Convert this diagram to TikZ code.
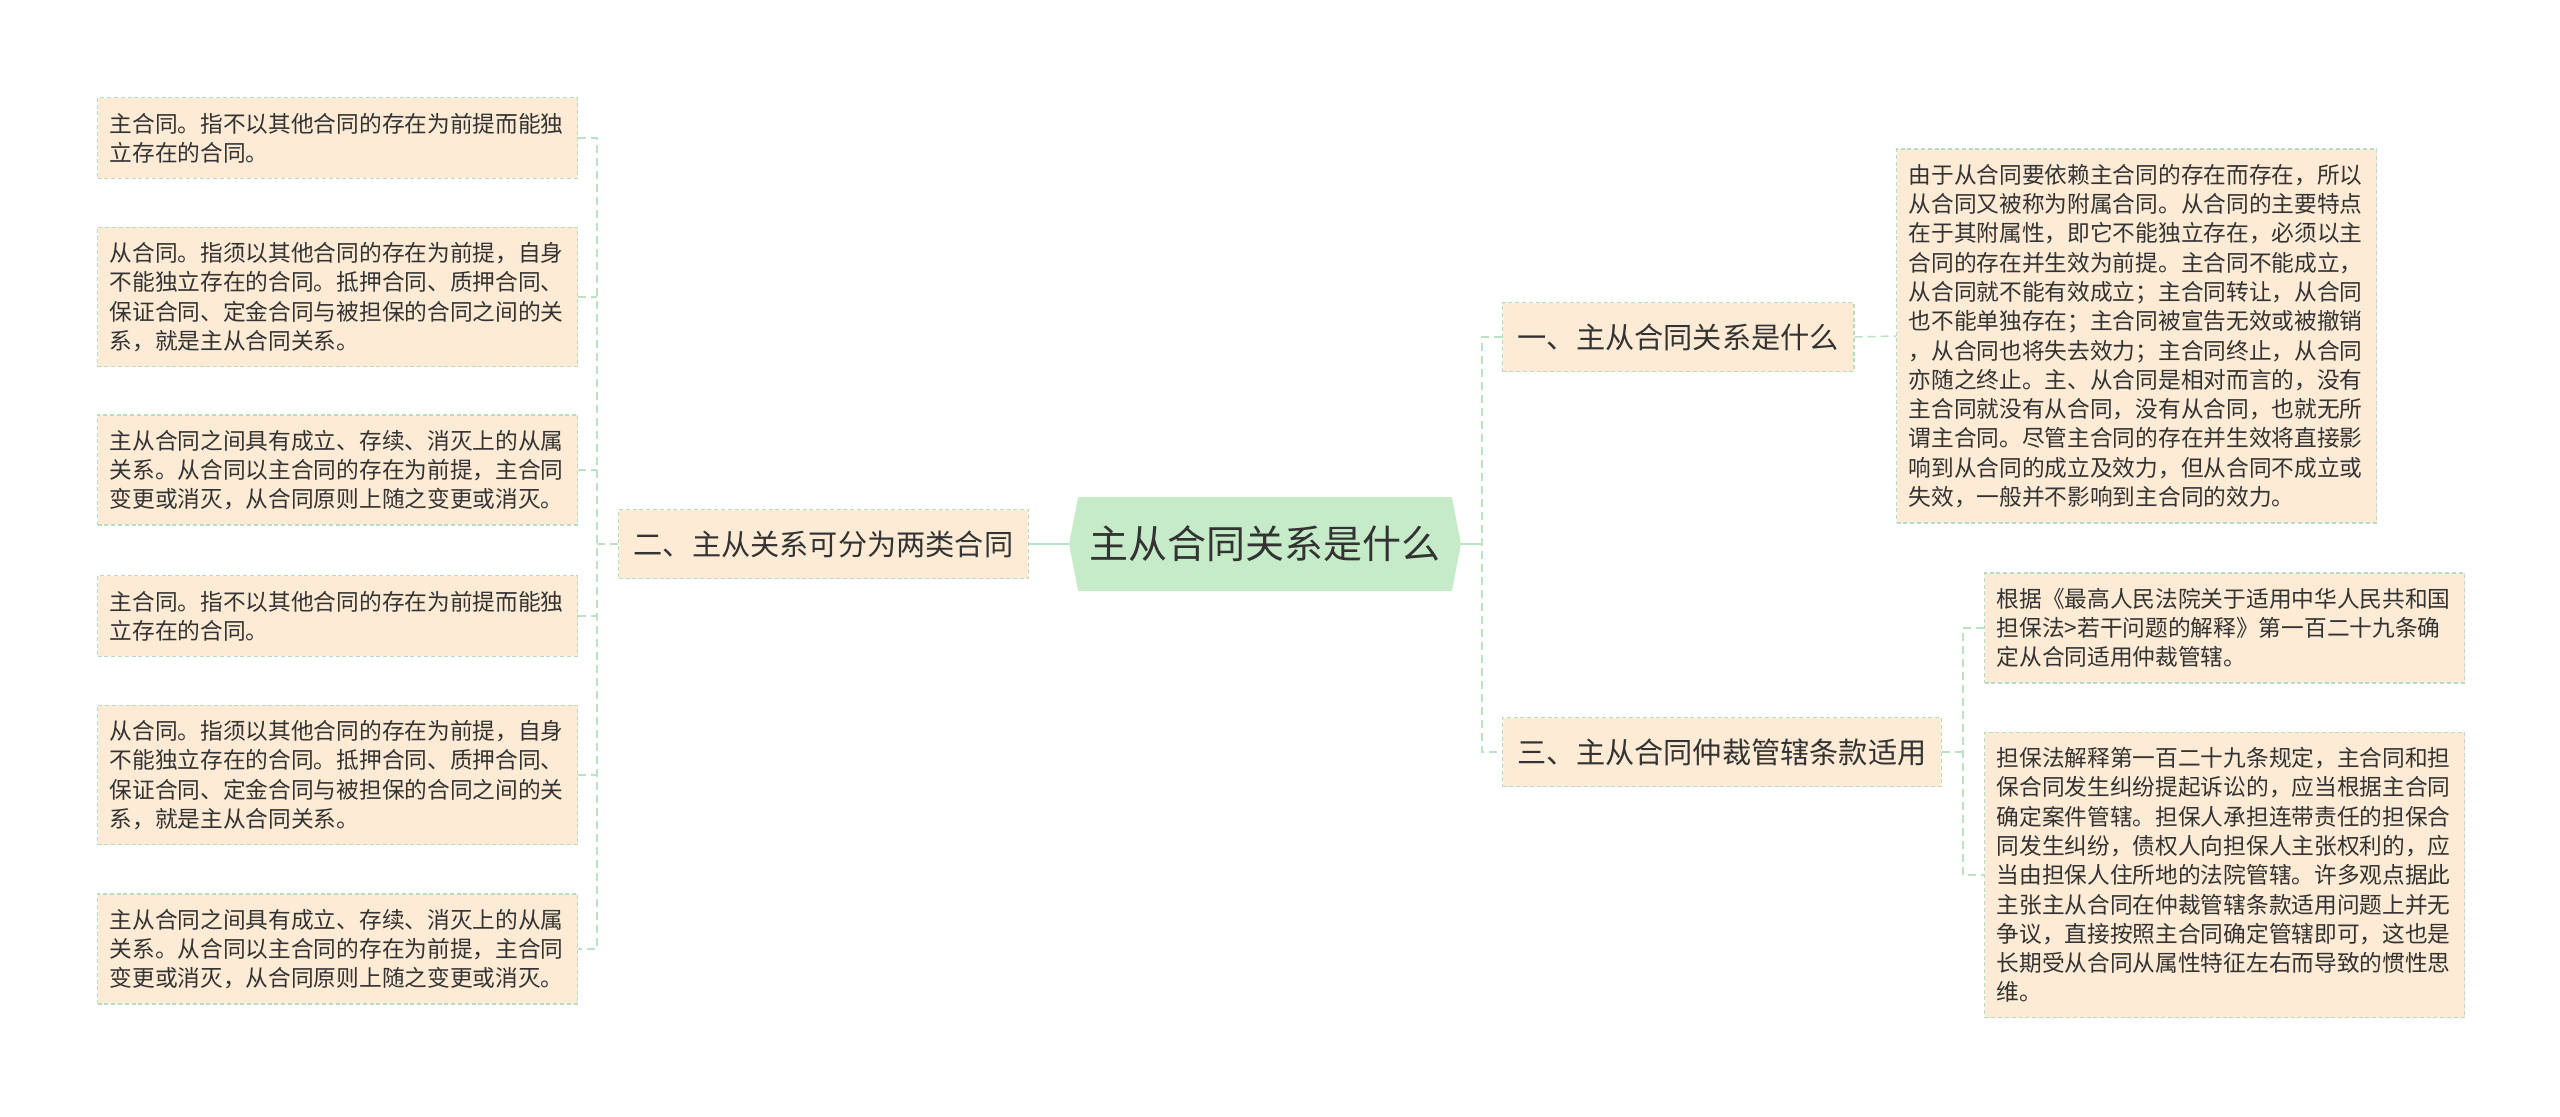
\documentclass[tikz,border=0pt]{standalone}
\usepackage{fontspec}
\setmainfont{Noto Sans CJK SC}
\usetikzlibrary{shapes.symbols}

\definecolor{boxfill}{HTML}{FDEBD5}
\definecolor{boxline}{HTML}{B5DDC0}
\definecolor{rootfill}{HTML}{C6EBC9}
\definecolor{linkclr}{HTML}{BCE2C5}
\definecolor{textclr}{HTML}{333333}

\newcommand{\leaffont}{\fontsize{11.35pt}{14.65pt}\selectfont}
\newcommand{\topicfont}{\fontsize{14.6pt}{17pt}\selectfont}
\newcommand{\rootfont}{\fontsize{19.5pt}{22pt}\selectfont}

\begin{document}
\begin{tikzpicture}[x=0.5pt,y=-0.5pt,
    leaf/.style={draw=boxline, line width=0.65pt, dash pattern=on 2pt off 1.4pt,
        fill=boxfill, text=textclr, font=\leaffont, text width=228pt, align=left,
        inner xsep=6pt, inner ysep=7.5pt, anchor=west},
    topic/.style={draw=boxline, line width=0.65pt, dash pattern=on 2pt off 1.4pt,
        fill=boxfill, text=textclr, font=\topicfont, inner xsep=7.5pt,
        minimum height=34.5pt},
    rootnode/.style={signal, signal to=west and east, signal pointer angle=158,
        fill=rootfill, text=textclr, font=\rootfont, minimum width=196pt,
        minimum height=47pt, inner sep=0pt},
    mainline/.style={draw=linkclr, line width=1.2pt},
    branch/.style={draw=linkclr, line width=0.75pt, dash pattern=on 4pt off 2.5pt}]

    \useasboundingbox[fill=white] (0,0) rectangle (2560,1116);

    % centre
    \node[rootnode] (root) at (1265,544) {主从合同关系是什么};

    % first level
    \node[topic, anchor=west] (t1) at (1502,337) {一、主从合同关系是什么};
    \node[topic, anchor=east] (t2) at (1029,544) {二、主从关系可分为两类合同};
    \node[topic, anchor=west] (t3) at (1502,752) {三、主从合同仲裁管辖条款适用};

    % left leaves
    \node[leaf] (l1) at (97,138) {主合同。指不以其他合同的存在为前提而能独\\立存在的合同。};
    \node[leaf] (l2) at (97,297) {从合同。指须以其他合同的存在为前提，自身\\不能独立存在的合同。抵押合同、质押合同、\\保证合同、定金合同与被担保的合同之间的关\\系，就是主从合同关系。};
    \node[leaf] (l3) at (97,470) {主从合同之间具有成立、存续、消灭上的从属\\关系。从合同以主合同的存在为前提，主合同\\变更或消灭，从合同原则上随之变更或消灭。};
    \node[leaf] (l4) at (97,616) {主合同。指不以其他合同的存在为前提而能独\\立存在的合同。};
    \node[leaf] (l5) at (97,775) {从合同。指须以其他合同的存在为前提，自身\\不能独立存在的合同。抵押合同、质押合同、\\保证合同、定金合同与被担保的合同之间的关\\系，就是主从合同关系。};
    \node[leaf] (l6) at (97,949) {主从合同之间具有成立、存续、消灭上的从属\\关系。从合同以主合同的存在为前提，主合同\\变更或消灭，从合同原则上随之变更或消灭。};

    % right leaves
    \node[leaf] (r1) at (1896,336) {由于从合同要依赖主合同的存在而存在，所以\\从合同又被称为附属合同。从合同的主要特点\\在于其附属性，即它不能独立存在，必须以主\\合同的存在并生效为前提。主合同不能成立，\\从合同就不能有效成立；主合同转让，从合同\\也不能单独存在；主合同被宣告无效或被撤销\\，从合同也将失去效力；主合同终止，从合同\\亦随之终止。主、从合同是相对而言的，没有\\主合同就没有从合同，没有从合同，也就无所\\谓主合同。尽管主合同的存在并生效将直接影\\响到从合同的成立及效力，但从合同不成立或\\失效，一般并不影响到主合同的效力。};
    \node[leaf] (r2) at (1984,628) {根据《最高人民法院关于适用中华人民共和国\\担保法>若干问题的解释》第一百二十九条确\\定从合同适用仲裁管辖。};
    \node[leaf] (r3) at (1984,875) {担保法解释第一百二十九条规定，主合同和担\\保合同发生纠纷提起诉讼的，应当根据主合同\\确定案件管辖。担保人承担连带责任的担保合\\同发生纠纷，债权人向担保人主张权利的，应\\当由担保人住所地的法院管辖。许多观点据此\\主张主从合同在仲裁管辖条款适用问题上并无\\争议，直接按照主合同确定管辖即可，这也是\\长期受从合同从属性特征左右而导致的惯性思\\维。};

    % joints
    \coordinate (lj) at (597,544);
    \coordinate (rj) at (1482,544);
    \coordinate (sj) at (1963,752);

    % connectors
    \draw[mainline] (root.west) -- (t2.east);
    \draw[mainline] (root.east) -- (rj);
    \draw[branch] (t1.west) -- (t1.west -| rj) -- (t3.west -| rj) -- (t3.west);
    \draw[branch] (t1.east) -- (r1.west);
    \draw[branch] (t2.west) -- (lj);
    \draw[branch] (l1.east) -- (l1.east -| lj) -- (l6.east -| lj) -- (l6.east);
    \foreach \n in {2,...,5}
        \draw[branch] (l\n.east) -- (l\n.east -| lj);
    \draw[branch] (t3.east) -- (sj);
    \draw[branch] (r2.west) -- (r2.west -| sj) -- (r3.west -| sj) -- (r3.west);
\end{tikzpicture}
\end{document}
